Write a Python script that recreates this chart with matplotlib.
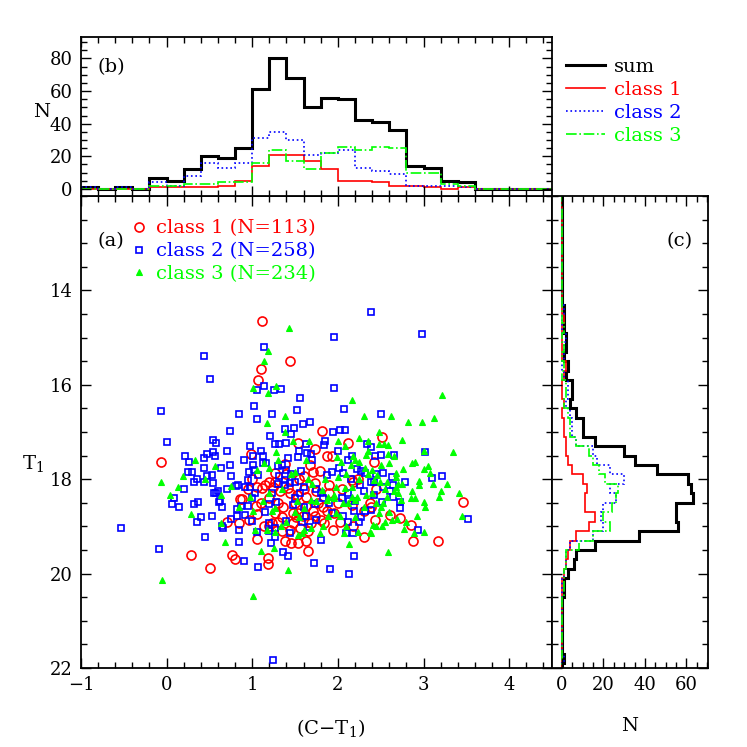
import numpy as np
import matplotlib
matplotlib.use('Agg')
import matplotlib.pyplot as plt
from matplotlib.ticker import MultipleLocator
from matplotlib.lines import Line2D

plt.rcParams['font.family'] = ['DejaVu Serif']
plt.rcParams['mathtext.fontset'] = 'dejavuserif'
plt.rcParams['font.size'] = 13

# ---- scatter data: (C-T1), T1 per class ----
c1_x = [-0.07, 0.70, 0.85, 0.28, 0.76, 0.80, 0.51, 0.86,
        1.11, 1.44, 1.10, 1.07, 1.82, 1.53, 1.73, 2.12, 0.98, 1.87, 1.93, 1.67,
        1.38, 1.71, 1.79, 1.61, 1.26, 2.17, 2.24, 2.42, 2.51,
        2.44, 2.37, 3.46, 2.61, 2.72, 2.43, 2.85, 2.88, 3.17,
        0.88, 1.04, 1.06, 0.96, 1.05, 1.18, 1.18, 1.38, 1.45, 1.53, 1.63, 1.65,
        1.94, 2.03, 2.18, 2.31, 2.31, 2.17, 1.87, 1.80, 1.84, 1.69, 1.59, 1.51,
        1.48, 1.44, 1.30, 1.23, 1.19, 1.14, 1.26, 1.35, 1.36, 1.63, 1.77, 1.83,
        1.63, 1.52, 1.42, 1.44, 1.32, 1.24, 1.15, 1.11, 1.19, 1.26, 1.05, 1.73,
        1.90, 1.96, 1.71, 1.73, 1.54, 1.48, 1.56, 2.18, 2.39,
        1.30, 1.50, 1.60, 1.90, 1.20, 1.00, 1.40, 2.00, 1.55, 1.75, 1.10, 1.65,
        2.05, 1.35, 0.95]
c1_y = [17.64, 18.90, 18.93, 19.60, 19.60, 19.70, 19.88, 18.42,
        14.64, 15.50, 15.67, 15.89, 16.97, 17.24, 17.36, 17.24, 17.46, 17.50, 17.50, 17.70,
        17.68, 17.85, 17.82, 17.94, 17.88, 18.02, 17.99, 17.64, 17.11,
        18.21, 18.50, 18.48, 18.75, 18.83, 18.86, 18.98, 19.31, 19.30,
        18.42, 18.56, 18.74, 18.86, 19.27, 19.67, 19.80, 19.32, 19.36, 19.36, 19.30, 19.52,
        19.08, 18.90, 19.00, 19.23, 18.67, 18.55, 18.67, 18.86, 18.92, 18.92, 18.79, 18.81,
        18.72, 19.08, 18.90, 18.93, 19.00, 19.00, 18.72, 18.81, 18.58, 18.56, 18.51, 18.58,
        18.37, 18.33, 18.19, 18.30, 18.26, 18.16, 18.12, 18.19, 18.07, 18.05, 18.17, 18.09,
        18.12, 18.72, 18.68, 18.79, 18.72, 18.93, 19.04, 18.05, 18.58,
        18.50, 18.50, 18.20, 18.30, 18.40, 18.00, 17.90, 18.50, 18.00, 18.25, 18.50, 19.10,
        18.20, 19.10, 18.20]

c2_x = [0.44, 0.51, -0.07, 0.85, 0.74, 0.01, 0.54, 0.58, 0.22, 0.47, 0.54, 0.56,
        0.26, 0.44, 0.44, 0.63, 0.74, 0.25, 0.30, 0.47, 0.53, 0.75, 0.32, 0.44, 0.54,
        0.60, 0.58, 0.71, 0.81, 0.09, 0.06, 0.14, 0.32, 0.37, 0.62, 0.61, 0.82,
        0.82, 0.53, 0.35, 0.65, 0.66, 0.75, 0.85, 0.45, 0.84, -0.09, -0.53,
        2.39, 1.96, 1.14, 1.95, 1.14, 1.05, 1.25, 1.34, 1.56, 1.02, 1.23, 1.52,
        2.07, 1.05, 1.59, 1.67, 1.38, 1.49, 1.45, 1.21, 2.02, 2.08, 1.94, 0.97,
        1.27, 1.31, 1.40, 1.63, 1.84, 2.34, 2.39, 1.55, 1.64, 1.69, 1.13, 1.42,
        1.01, 1.13, 1.16, 1.01, 1.30, 1.54, 2.16, 2.12, 2.22, 2.27, 2.32, 2.01,
        2.06, 1.93, 1.87, 0.96, 1.02, 1.07, 1.39, 1.57, 1.31, 1.50, 1.38, 0.95,
        2.98, 2.50, 2.65, 3.02, 2.50, 2.43, 2.53, 2.63, 3.10, 3.22, 2.78, 2.42,
        2.53, 2.64, 2.61, 2.42, 2.64, 2.51, 2.72, 2.72, 2.39, 3.52, 2.94,
        1.24, 1.72, 1.91, 2.13, 2.19, 1.07, 0.90, 1.42, 1.36, 1.22, 1.27, 1.05,
        1.19, 0.92, 0.95, 1.80, 1.66, 1.58, 1.39, 1.48, 1.73, 1.93, 2.06, 2.12,
        2.10, 2.18, 2.19, 2.05, 2.13, 2.12, 2.26, 2.31, 2.39, 1.80, 1.83, 1.61,
        1.56, 1.38, 1.44, 1.23, 1.28, 1.19, 1.03, 0.97, 0.91, 0.83, 0.87, 1.00,
        1.26, 1.44, 1.75, 1.63, 2.27, 2.32, 2.20,
        0.20, 0.35, 0.65, 0.90, 1.10, 1.15, 1.35, 1.50, 1.70, 1.90, 2.00, 2.25,
        0.40, 0.70, 1.00, 1.30, 1.60, 1.85, 2.15, 2.45, 0.55, 1.20, 1.45, 1.75]
c2_y = [15.40, 15.88, 16.55, 16.61, 16.99, 17.22, 17.18, 17.23, 17.50, 17.47, 17.42, 17.51,
        17.64, 17.56, 17.76, 17.77, 17.70, 17.84, 17.84, 17.93, 17.91, 17.93, 18.07, 18.05, 18.09,
        18.25, 18.30, 18.21, 18.14, 18.40, 18.53, 18.59, 18.53, 18.48, 18.46, 18.48, 18.63,
        18.79, 18.78, 18.91, 19.00, 19.04, 18.85, 19.07, 19.22, 19.33, 19.49, 19.04,
        14.46, 14.99, 15.21, 16.07, 16.03, 16.11, 16.11, 16.09, 16.29, 16.45, 16.62, 16.53,
        16.52, 16.73, 16.84, 16.79, 16.94, 16.92, 17.04, 17.08, 16.96, 16.96, 17.00, 17.29,
        17.25, 17.25, 17.24, 17.25, 17.27, 17.25, 17.31, 17.41, 17.45, 17.47, 17.52, 17.56,
        17.52, 17.66, 17.66, 17.71, 17.73, 17.54, 17.51, 17.60, 17.79, 17.82, 17.88, 17.77,
        17.87, 17.84, 17.91, 17.85, 17.81, 17.91, 17.81, 17.82, 17.93, 18.07, 18.02, 18.02,
        14.93, 16.63, 17.49, 17.43, 17.49, 17.52, 17.86, 17.95, 17.98, 17.93, 18.05, 18.06,
        18.17, 18.13, 18.25, 18.33, 18.38, 18.49, 18.48, 18.62, 18.65, 18.85, 19.08,
        21.84, 19.77, 19.90, 20.01, 19.63, 19.87, 19.74, 19.63, 19.54, 19.35, 19.23, 19.11,
        18.92, 18.76, 18.57, 19.29, 19.02, 18.90, 18.88, 18.55, 18.53, 18.72, 18.79, 18.90,
        19.15, 19.15, 18.68, 18.40, 18.47, 18.30, 18.12, 18.26, 18.05, 18.30, 18.40, 18.16,
        18.30, 18.12, 18.09, 18.30, 18.48, 18.53, 18.30, 18.16, 18.16, 18.12, 18.57, 18.88,
        19.04, 19.15, 18.86, 18.78, 18.81, 18.67, 18.47,
        18.20, 18.00, 18.60, 17.60, 17.40, 18.70, 17.70, 18.40, 17.60, 18.50, 17.40, 18.90,
        18.80, 17.40, 18.40, 18.10, 18.60, 17.20, 18.00, 17.90, 18.30, 19.10, 17.90, 18.20]

c3_x = [0.33, 0.56, 0.19, -0.07, 0.13, 0.04, 0.28, 0.68, -0.05, 0.64, 0.75, 0.63,
        1.43, 1.18, 1.14, 1.01, 1.28, 1.18, 2.17, 2.30, 1.38, 1.17, 1.38, 2.25,
        1.66, 2.00, 1.48, 1.28, 2.35, 2.35, 2.33, 2.18, 1.99, 2.08, 2.25, 1.63,
        1.50, 1.14, 1.19, 2.04, 2.32,
        3.22, 2.62, 2.82, 2.98, 3.12, 2.48, 2.75, 2.48, 2.54, 2.59, 2.59, 3.35,
        2.60, 2.50, 2.76, 2.87, 2.90, 3.05, 3.01, 3.07, 2.68, 2.68, 2.46, 2.95,
        2.42, 3.28, 3.11,
        2.95, 2.87, 3.21, 3.18, 3.42, 3.01, 3.02, 2.92, 3.45, 2.77, 3.01, 2.89,
        2.59, 2.52, 2.45, 2.41, 2.39, 2.48, 2.63, 2.69, 2.65, 2.68, 2.57, 2.53,
        2.74, 2.49, 2.57,
        1.01, 1.42, 1.10, 1.25, 2.13, 2.07, 2.24, 2.37, 1.79, 1.58, 1.54, 1.34,
        1.40, 1.83, 1.89, 1.98, 2.03, 2.06, 2.12, 2.16, 2.22, 2.20, 2.33, 1.98,
        2.08, 2.16, 1.96, 1.89, 1.95, 0.97, 1.01, 1.23, 1.26, 1.61, 1.69, 1.75,
        1.52, 1.03, 1.17, 1.26, 1.61, 1.69, 1.13, 1.81, 1.87,
        2.10, 2.25, 2.40, 2.55, 2.70, 2.85, 2.30, 2.45, 2.60, 2.75, 2.15, 2.35,
        2.50, 2.65, 2.80, 1.85, 2.00, 2.20, 2.40, 2.55, 1.20, 1.35, 1.50, 1.65,
        1.30, 1.45, 1.70, 2.90, 3.00, 2.10, 0.45, 0.85, 1.05, 1.55, 2.70, 2.20]
c3_y = [17.59, 17.72, 17.93, 18.07, 18.17, 18.34, 18.73, 19.34, 20.14, 18.92, 18.14, 18.33,
        14.80, 15.28, 15.50, 16.06, 16.03, 16.18, 16.32, 16.67, 16.67, 16.80, 17.00, 17.12,
        17.20, 17.20, 17.20, 17.43, 17.20, 17.41, 17.49, 17.51, 17.54, 17.29, 17.64, 17.60,
        17.85, 17.66, 17.77, 17.64, 17.77,
        16.22, 16.67, 16.79, 16.79, 16.70, 17.01, 17.18, 17.25, 17.25, 17.28, 17.47, 17.42,
        17.65, 17.70, 17.79, 17.65, 17.64, 17.73, 17.79, 17.87, 17.87, 17.95, 17.91, 18.03,
        18.02, 18.11, 18.11,
        18.12, 18.25, 18.26, 18.37, 18.30, 18.49, 18.60, 18.79, 18.79, 19.06, 19.13, 19.15,
        19.55, 19.00, 19.00, 18.98, 19.15, 18.72, 18.86, 18.85, 18.26, 18.16, 18.37, 18.50,
        18.44, 18.05, 18.05,
        20.47, 19.92, 19.52, 19.46, 19.37, 19.15, 19.11, 19.11, 19.15, 19.15, 19.18, 19.00,
        18.90, 19.00, 18.79, 18.72, 18.79, 18.51, 18.51, 18.37, 18.37, 18.44, 18.33, 18.16,
        18.19, 18.16, 18.33, 18.37, 18.40, 18.37, 18.68, 18.68, 18.62, 18.62, 18.44, 18.47,
        18.47, 19.08, 19.08, 19.11, 19.08, 19.04, 18.47, 18.23, 18.44,
        17.90, 18.00, 17.80, 18.20, 18.30, 18.40, 18.60, 18.50, 18.70, 18.10, 17.70, 17.90,
        18.60, 17.50, 18.90, 18.00, 17.95, 18.80, 18.30, 18.90, 18.30, 18.20, 18.70, 18.00,
        17.60, 17.90, 18.10, 18.40, 17.40, 19.00, 18.00, 18.60, 17.80, 18.80, 18.10, 17.60]

# ---- top histogram: counts in (C-T1) bins of 0.2 starting at -1.0 ----
top_edges = np.arange(-1.0, 4.61, 0.2)
c1_top = [0, 0, 0, 0, 1, 1, 1, 1, 2, 5, 14, 21, 21, 17, 12, 5, 5, 4, 2, 2, 1, 0, 1, 0, 0, 0, 0, 0]
c2_top = [1, 0, 1, 0, 4, 2, 8, 16, 13, 16, 31, 35, 30, 21, 22, 24, 13, 11, 9, 2, 2, 2, 1, 0, 0, 0, 0, 0]
c3_top = [0, 0, 0, 0, 2, 2, 3, 3, 4, 4, 16, 24, 17, 12, 22, 26, 24, 26, 25, 10, 10, 3, 2, 0, 0, 0, 0, 0]

# ---- right histogram: counts in T1 bins of 0.2 starting at 11.9 ----
right_edges = np.arange(11.9, 22.11, 0.2)
c1_right = [0, 0, 0, 0, 0, 0, 0, 0, 0, 0, 0, 0,
            0, 1, 0, 0, 0, 0, 2, 1, 0, 0, 1, 0, 1, 1, 2, 2, 3, 5, 10, 12, 11, 11, 16, 13, 7, 4, 3, 2, 1,
            0, 0, 0, 0, 0, 0, 0, 0, 0, 0]
c2_right = [0, 0, 0, 0, 0, 0, 0, 0, 0, 0, 0, 0,
            1, 0, 0, 2, 1, 1, 0, 1, 3, 3, 2, 4, 5, 5, 7, 15, 17, 23, 30, 23, 26, 20, 19, 20, 15, 4, 2, 2, 1,
            0, 0, 0, 0, 0, 0, 0, 0, 1, 0]
c3_right = [0, 0, 0, 0, 0, 0, 0, 0, 0, 0, 0, 0,
            0, 0, 1, 0, 1, 0, 1, 0, 2, 2, 1, 3, 4, 4, 7, 13, 15, 18, 21, 27, 26, 24, 20, 23, 15, 8, 2, 2, 1,
            1, 1, 0, 0, 0, 0, 0, 0, 0, 0]

labels = ['class 1', 'class 2', 'class 3']
n_class = [113, 258, 234]
colors = ['#ff0000', '#0000ff', '#00ff00']
styles = ['-', ':', '-.']

fig = plt.figure(figsize=(7.47, 7.47), dpi=100)
ax = fig.add_axes([0.1084, 0.1058, 0.6305, 0.6319])
axt = fig.add_axes([0.1084, 0.7377, 0.6305, 0.2129], sharex=ax)
axr = fig.add_axes([0.7389, 0.1058, 0.2088, 0.6319], sharey=ax)


def style_ticks(a):
    a.tick_params(which='both', direction='in', top=True, right=True, width=1.0)
    a.tick_params(which='major', length=7.5, pad=6)
    a.tick_params(which='minor', length=4)
    for s in a.spines.values():
        s.set_linewidth(1.3)


# (a) scatter
h1, = ax.plot(c1_x, c1_y, 'o', mfc='none', mec=colors[0], ms=6.5, mew=1.2, ls='none')
h2, = ax.plot(c2_x, c2_y, 's', mfc='none', mec=colors[1], ms=4.2, mew=1.2, ls='none')
h3, = ax.plot(c3_x, c3_y, '^', mfc=colors[2], mec=colors[2], ms=4.0, mew=0.8, ls='none')
ax.set_xlim(-1, 4.5)
ax.set_ylim(22, 12)
ax.xaxis.set_major_locator(MultipleLocator(1))
ax.xaxis.set_minor_locator(MultipleLocator(0.2))
ax.yaxis.set_minor_locator(MultipleLocator(0.5))
ax.set_yticks([14, 16, 18, 20, 22])
style_ticks(ax)
ax.set_xlabel('(C\u2212T$_1$)', fontsize=14)
ax.xaxis.set_label_coords(0.529, -0.103)
ax.set_ylabel('T$_1$', rotation=0, fontsize=14, va='center', ha='center')
ax.yaxis.set_label_coords(-0.102, 0.434)
ax.text(0.036, 0.905, '(a)', transform=ax.transAxes, fontsize=14, va='center')
ax.legend([h1, h2, h3], ['%s (N=%d)' % (l, n) for l, n in zip(labels, n_class)],
          labelcolor=colors, loc='upper left', bbox_to_anchor=(0.104, 0.95),
          frameon=False, handlelength=0.9, handletextpad=0.45, labelspacing=0.25,
          borderpad=0, borderaxespad=0, fontsize=14)

# (b) top histogram
sum_top = np.array(c1_top) + np.array(c2_top) + np.array(c3_top)
axt.stairs(sum_top, top_edges, baseline=None, color='black', lw=2.2)
for vals, c, s in zip([c1_top, c2_top, c3_top], colors, styles):
    axt.stairs(vals, top_edges, baseline=None, color=c, lw=1.2, ls=s)
axt.set_ylim(-4.3, 93.2)
axt.yaxis.set_major_locator(MultipleLocator(20))
axt.yaxis.set_minor_locator(MultipleLocator(5))
style_ticks(axt)
axt.tick_params(axis='x', labelbottom=False)
axt.set_ylabel('N', rotation=0, fontsize=14, va='center', ha='center')
axt.yaxis.set_label_coords(-0.083, 0.528)
axt.text(0.036, 0.81, '(b)', transform=axt.transAxes, fontsize=14, va='center')

# (c) right histogram
sum_right = np.array(c1_right) + np.array(c2_right) + np.array(c3_right)
axr.stairs(sum_right, right_edges, baseline=None, orientation='horizontal', color='black', lw=2.2)
for vals, c, s in zip([c1_right, c2_right, c3_right], colors, styles):
    axr.stairs(vals, right_edges, baseline=None, orientation='horizontal', color=c, lw=1.2, ls=s)
axr.set_xlim(-4.8, 70.4)
axr.xaxis.set_major_locator(MultipleLocator(20))
axr.xaxis.set_minor_locator(MultipleLocator(5))
style_ticks(axr)
axr.tick_params(axis='y', labelleft=False)
axr.set_xlabel('N', fontsize=14)
axr.xaxis.set_label_coords(0.5, -0.103)
axr.text(0.737, 0.905, '(c)', transform=axr.transAxes, fontsize=14, va='center')

# legend for the histograms
leg_handles = [Line2D([], [], color='black', lw=2.2)] + \
              [Line2D([], [], color=c, lw=1.2, ls=s) for c, s in zip(colors, styles)]
fig.legend(leg_handles, ['sum'] + labels, labelcolor=['black'] + colors,
           loc='upper left', bbox_to_anchor=(0.758, 0.922), frameon=False,
           handlelength=2.0, handletextpad=0.45, labelspacing=0.25,
           borderpad=0, borderaxespad=0, fontsize=14)

fig.savefig('out.png', dpi=100)
